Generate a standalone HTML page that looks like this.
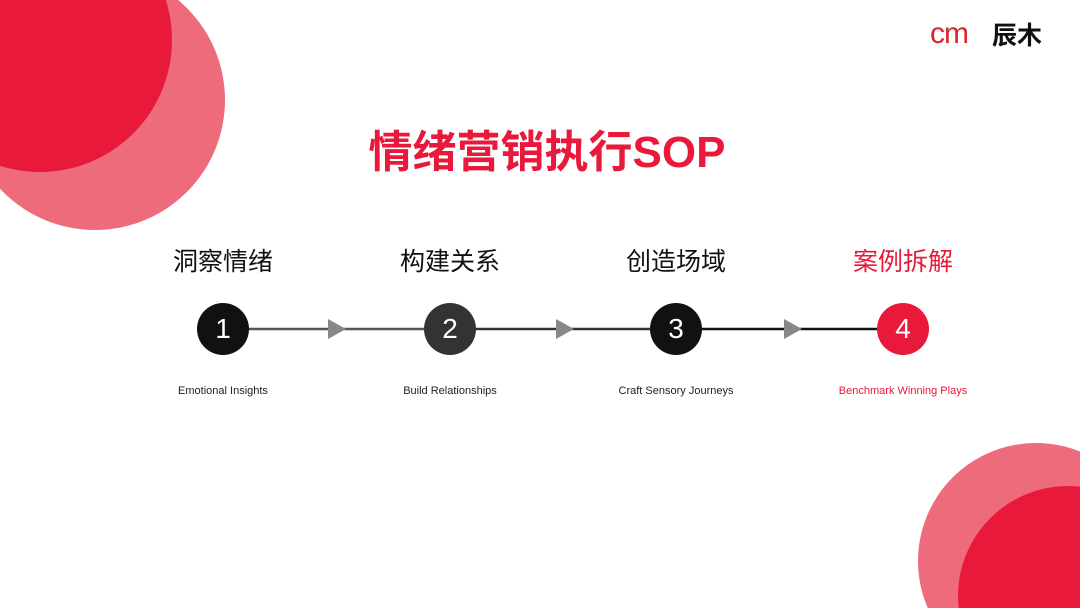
<!DOCTYPE html>
<html style="width:1080px;height:608px;overflow:hidden"><head><meta charset="utf-8"><style>
body{margin:0;width:1080px;height:608px;overflow:hidden;background:#fff;position:relative;font-family:"Liberation Sans","Noto Sans CJK SC",sans-serif}
.t{position:absolute;text-align:center;white-space:nowrap;transform:translateX(-50%)}
.h{font-size:25px;top:242px;color:#111}
.l{font-size:11px;top:385px;color:#222}
.n{position:absolute;width:52px;height:52px;border-radius:50%;color:#fff;font-size:28px;line-height:52px;text-align:center;top:303px}
</style></head><body>
<svg style="position:absolute;left:0;top:0" width="1080" height="608">
<circle cx="95" cy="100" r="130" fill="#ee6b7b"/>
<circle cx="40" cy="40" r="132" fill="#e8193a"/>
<circle cx="1036" cy="561" r="118" fill="#ee6b7b"/>
<circle cx="1068" cy="596" r="110" fill="#e8193a"/>
<line x1="249" y1="329" x2="424" y2="329" stroke="#555" stroke-width="2.5"/>
<line x1="476" y1="329" x2="650" y2="329" stroke="#333" stroke-width="2.5"/>
<line x1="702" y1="329" x2="877" y2="329" stroke="#111" stroke-width="2.5"/>
<polygon points="328,319 346,329 328,339" fill="#888"/>
<polygon points="556,319 574,329 556,339" fill="#888"/>
<polygon points="784,319 802,329 784,339" fill="#888"/>
</svg>
<div style="position:absolute;left:930px;top:20px;font-size:30px;color:#d9262e;letter-spacing:-1px;line-height:28px">cm</div>
<div style="position:absolute;left:992px;top:22px;font-size:25px;font-weight:bold;color:#111;line-height:28px">辰木</div>
<div class="t" style="left:547px;top:116px;font-size:44px;font-weight:bold;color:#e8193a">情绪营销执行SOP</div>
<div class="n" style="left:197px;background:#111">1</div>
<div class="n" style="left:424px;background:#333">2</div>
<div class="n" style="left:650px;background:#111">3</div>
<div class="n" style="left:877px;background:#e8193a">4</div>
<div class="t h" style="left:223px">洞察情绪</div>
<div class="t h" style="left:450px">构建关系</div>
<div class="t h" style="left:676px">创造场域</div>
<div class="t h" style="left:903px;color:#e8193a">案例拆解</div>
<div class="t l" style="left:223px">Emotional Insights</div>
<div class="t l" style="left:450px">Build Relationships</div>
<div class="t l" style="left:676px">Craft Sensory Journeys</div>
<div class="t l" style="left:903px;color:#e8193a">Benchmark Winning Plays</div>
</body></html>
